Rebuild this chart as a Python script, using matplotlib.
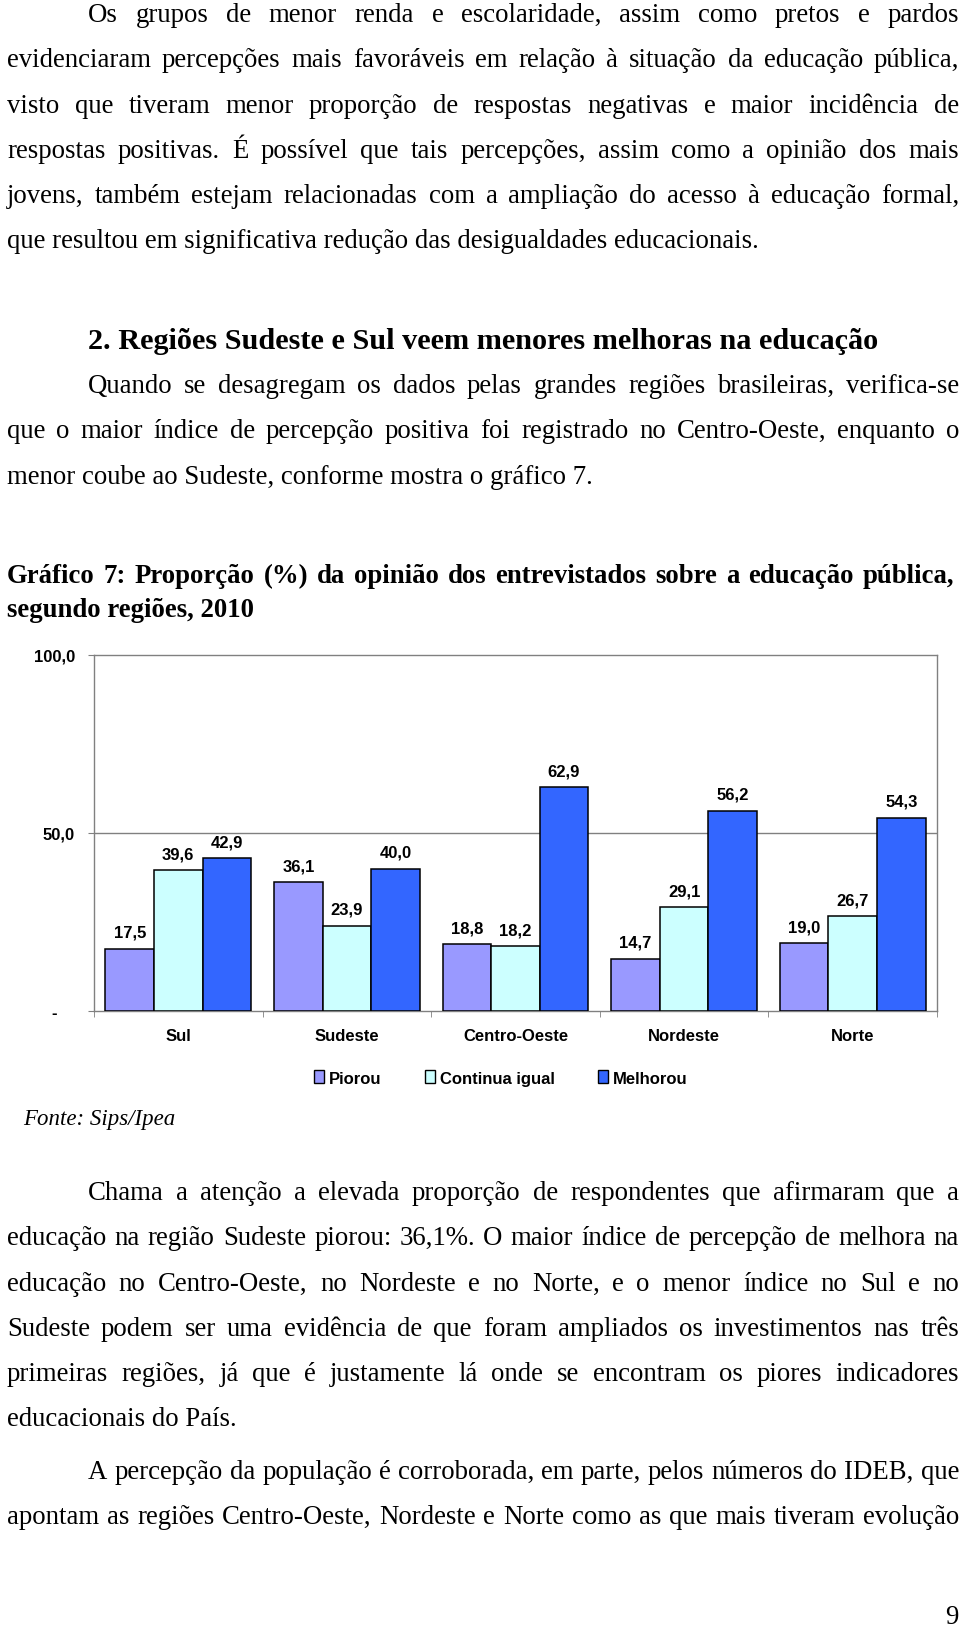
import matplotlib
matplotlib.use('Agg')
import matplotlib.pyplot as plt
import numpy as np
from matplotlib.patches import Patch
from matplotlib.transforms import ScaledTranslation

W, H = 960, 1640

# dados do grafico 7
regioes = ['Sul', 'Sudeste', 'Centro-Oeste', 'Nordeste', 'Norte']
piorou = [17.5, 36.1, 18.8, 14.7, 19.0]
continua = [39.6, 23.9, 18.2, 29.1, 26.7]
melhorou = [42.9, 40.0, 62.9, 56.2, 54.3]
series = ['Piorou', 'Continua igual', 'Melhorou']
cores = ['#9999FF', '#CCFFFF', '#3366FF']
yticks = [0, 50, 100]
ytick_labels = ['-', '50,0', '100,0']

# texto da pagina
par1 = ["Os grupos de menor renda e escolaridade, assim como pretos e pardos",
        "evidenciaram percepções mais favoráveis em relação à situação da educação pública,",
        "visto que tiveram menor proporção de respostas negativas e maior incidência de",
        "respostas positivas. É possível que tais percepções, assim como a opinião dos mais",
        "jovens, também estejam relacionadas com a ampliação do acesso à educação formal,",
        "que resultou em significativa redução das desigualdades educacionais."]
titulo_secao = "2. Regiões Sudeste e Sul veem menores melhoras na educação"
par2 = ["Quando se desagregam os dados pelas grandes regiões brasileiras, verifica-se",
        "que o maior índice de percepção positiva foi registrado no Centro-Oeste, enquanto o",
        "menor coube ao Sudeste, conforme mostra o gráfico 7."]
titulo_graf = ["Gráfico 7: Proporção (%) da opinião dos entrevistados sobre a educação pública,",
               "segundo regiões, 2010"]
fonte = "Fonte: Sips/Ipea"
par3 = ["Chama a atenção a elevada proporção de respondentes que afirmaram que a",
        "educação na região Sudeste piorou: 36,1%. O maior índice de percepção de melhora na",
        "educação no Centro-Oeste, no Nordeste e no Norte, e o menor índice no Sul e no",
        "Sudeste podem ser uma evidência de que foram ampliados os investimentos nas três",
        "primeiras regiões, já que é justamente lá onde se encontram os piores indicadores",
        "educacionais do País."]
par4 = ["A percepção da população é corroborada, em parte, pelos números do IDEB, que",
        "apontam as regiões Centro-Oeste, Nordeste e Norte como as que mais tiveram evolução"]

serif = 'Liberation Serif'
sans = 'Liberation Sans'
body = 19.3

fig = plt.figure(figsize=(W / 100, H / 100), dpi=100)
r = fig.canvas.get_renderer()


def linha(txt, ybase, x0=7, x1=959, justif=True, **kw):
    y = 1 - ybase / H
    if not justif:
        fig.text(x0 / W, y, txt, va='baseline', **kw)
        return
    words = txt.split(' ')
    objs = [fig.text(0, y, w, va='baseline', **kw) for w in words]
    ws = [o.get_window_extent(r).width for o in objs]
    gap = (x1 - x0 - sum(ws)) / (len(words) - 1)
    x = x0
    for o, w in zip(objs, ws):
        o.set_x(x / W)
        x += w + gap


def paragrafo(linhas, y0, passo=45.3, ultima_just=False, **kw):
    for i, t in enumerate(linhas):
        x0 = 88 if i == 0 else 7
        just = ultima_just or i < len(linhas) - 1
        linha(t, y0 + i * passo, x0=x0, justif=just, **kw)


txt = dict(family=serif, fontsize=body, color='black')
paragrafo(par1, 22, **txt)
linha(titulo_secao, 349, x0=88, justif=False, family=serif, fontsize=21.8, fontweight='bold')
paragrafo(par2, 393, **txt)
linha(titulo_graf[0], 583, x0=7, x1=954, family=serif, fontsize=body, fontweight='bold')
linha(titulo_graf[1], 617, x0=7, justif=False, family=serif, fontsize=body, fontweight='bold')
linha(fonte, 1125, x0=23, justif=False, family=serif, fontsize=16.5, style='italic')
paragrafo(par3, 1200, **txt)
paragrafo(par4, 1479, ultima_just=True, **txt)
fig.text(958 / W, 1 - 1624 / H, '9', ha='right', va='baseline', **txt)

# grafico
ax = fig.add_axes([94 / W, 1 - 1012 / H, 843 / W, 356 / H])
x = np.arange(len(regioes))
bw = 0.288
for i, (vals, cor) in enumerate(zip([piorou, continua, melhorou], cores)):
    bars = ax.bar(x + (i - 1) * bw, vals, bw, color=cor, edgecolor='black', linewidth=1.1, zorder=3)
    for b, v in zip(bars, vals):
        ax.annotate(f'{v:.1f}'.replace('.', ','), (b.get_x() + b.get_width() / 2, v),
                    xytext=(0, 8.6), textcoords='offset points', ha='center', va='baseline',
                    fontsize=12, fontweight='bold', family=sans)

ax.set_xlim(-0.5, len(regioes) - 0.5)
ax.set_ylim(0, 100)
ax.axhline(50, color='#808080', lw=1, zorder=1)
for s in ax.spines.values():
    s.set_color('#808080')
    s.set_linewidth(1)

ax.set_yticks(yticks, ytick_labels, family=sans, fontsize=12, fontweight='bold')
ax.tick_params(axis='y', length=4.3, color='#808080', pad=9.4)
lab0 = ax.get_yticklabels()[0]
lab0.set_transform(lab0.get_transform() + ScaledTranslation(-0.18, 0, fig.dpi_scale_trans))

ax.set_xticks(x, regioes, family=sans, fontsize=12, fontweight='bold')
ax.set_xticks(np.arange(len(regioes) + 1) - 0.5, minor=True)
ax.tick_params(axis='x', which='major', length=0, pad=12.5)
ax.tick_params(axis='x', which='minor', length=4.3, color='#808080')

handles = [Patch(facecolor=c, edgecolor='black', linewidth=1, label=n) for c, n in zip(cores, series)]
fig.legend(handles=handles, loc='center', bbox_to_anchor=(501 / W, 1 - 1079 / H), ncol=3,
           frameon=False, prop={'family': sans, 'weight': 'bold', 'size': 12},
           handlelength=0.6, handleheight=0.8, handletextpad=0.3, columnspacing=2.6)

fig.savefig('out.png', dpi=100)
